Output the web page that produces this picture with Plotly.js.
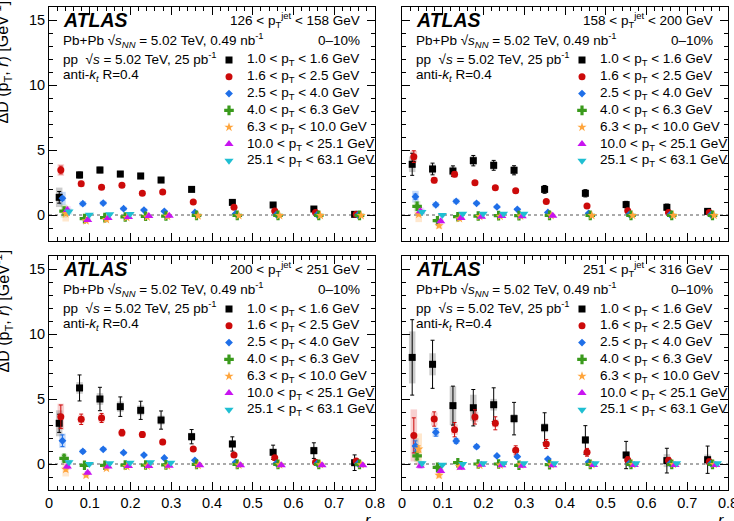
<!DOCTYPE html>
<html>
<head>
<meta charset="utf-8">
<script src="https://cdn.plot.ly/plotly-3.0.1.min.js"></script>
<style>
  html, body { margin: 0; padding: 0; background: #fff; }
  #chart { width: 734px; height: 521px; }
</style>
</head>
<body>
<div id="chart"></div>
<script>
// Centres of the r bins
const rBins = [0.025, 0.075, 0.125, 0.175, 0.225, 0.275, 0.35, 0.45, 0.55, 0.65, 0.75];

// Track pT intervals (one series each)
const trackBins = [
  '1.0 &lt; p<sub>T</sub> &lt; 1.6 GeV',
  '1.6 &lt; p<sub>T</sub> &lt; 2.5 GeV',
  '2.5 &lt; p<sub>T</sub> &lt; 4.0 GeV',
  '4.0 &lt; p<sub>T</sub> &lt; 6.3 GeV',
  '6.3 &lt; p<sub>T</sub> &lt; 10.0 GeV',
  '10.0 &lt; p<sub>T</sub> &lt; 25.1 GeV',
  '25.1 &lt; p<sub>T</sub> &lt; 63.1 GeV'
];

// Jet pT intervals (one panel each)
const jetBins = [
  '126 &lt; p<sub>T</sub><sup>jet</sup> &lt; 158 GeV',
  '158 &lt; p<sub>T</sub><sup>jet</sup> &lt; 200 GeV',
  '200 &lt; p<sub>T</sub><sup>jet</sup> &lt; 251 GeV',
  '251 &lt; p<sub>T</sub><sup>jet</sup> &lt; 316 GeV'
];

// ΔD(pT, r) [GeV^-1], rows follow trackBins
const dD126 = [
  [1.36, 3.08, 3.46, 3.15, 3.00, 2.69, 1.97, 0.97, 0.77, 0.46, 0.05],
  [3.46, 2.41, 2.13, 2.28, 1.67, 1.77, 1.00, 0.59, 0.31, 0.20, 0.05],
  [1.28, 0.87, 0.92, 0.49, 0.38, 0.28, 0.20, 0.10, 0.04, 0.02, 0.00],
  [0.30, -0.28, -0.20, -0.15, -0.10, -0.08, -0.03, -0.03, -0.03, -0.03, -0.03],
  [0.10, -0.45, -0.35, -0.20, -0.15, -0.10, -0.06, -0.05, -0.04, -0.04, -0.04],
  [0.38, -0.38, -0.23, -0.15, -0.08, -0.05, null, null, null, null, null],
  [0.26, 0.02, 0.05, 0.08, null, null, null, null, null, null, null]
];
const stat126 = [
  [0.45, 0.22, 0.20, 0.18, 0.18, 0.17, 0.15, 0.13, 0.12, 0.12, 0.10],
  [0.30, 0.12, 0.10, 0.10, 0.10, 0.10, 0.08, 0.07, 0.06, 0.06, 0.05],
  [0.15, 0.06, 0.06, 0.05, 0.05, 0.05, 0.04, 0.04, 0.03, 0.03, 0.03],
  [0.08, 0.05, 0.05, 0.04, 0.04, 0.04, 0.03, 0.03, 0.03, 0.03, 0.03],
  [0.08, 0.05, 0.05, 0.04, 0.04, 0.04, 0.03, 0.03, 0.03, 0.03, 0.03],
  [0.08, 0.05, 0.05, 0.04, 0.04, 0.04, null, null, null, null, null],
  [0.08, 0.05, 0.05, 0.04, null, null, null, null, null, null, null]
];
const syst126 = [
  [0.75, 0.30, 0.30, 0.28, 0.27, 0.25, 0.22, 0.20, 0.18, 0.16, 0.15],
  [0.45, 0.25, 0.20, 0.20, 0.18, 0.18, 0.15, 0.12, 0.10, 0.10, 0.08],
  [0.50, 0.20, 0.18, 0.15, 0.12, 0.10, 0.08, 0.06, 0.05, 0.05, 0.05],
  [0.50, 0.10, 0.10, 0.08, 0.08, 0.08, 0.06, 0.05, 0.05, 0.05, 0.05],
  [0.60, 0.15, 0.12, 0.10, 0.08, 0.08, 0.06, 0.05, 0.05, 0.05, 0.05],
  [0.30, 0.15, 0.10, 0.08, 0.08, 0.08, null, null, null, null, null],
  [0.25, 0.10, 0.08, 0.08, null, null, null, null, null, null, null]
];

const dD158 = [
  [3.90, 3.54, 3.38, 4.18, 3.82, 3.44, 1.97, 1.67, 0.80, 0.59, 0.28],
  [4.49, 2.67, 3.13, 2.49, 2.10, 1.87, 1.03, 0.69, 0.33, 0.20, 0.20],
  [1.41, 0.79, 1.05, 0.90, 0.62, 0.44, 0.20, 0.13, 0.05, 0.03, 0.02],
  [0.67, -0.44, -0.13, -0.08, -0.05, -0.05, -0.03, -0.03, -0.03, -0.03, -0.03],
  [0.05, -0.82, -0.28, -0.12, -0.10, -0.08, -0.05, -0.04, -0.03, -0.03, -0.03],
  [0.28, -0.49, -0.23, -0.13, -0.08, -0.10, -0.05, null, null, null, null],
  [0.23, 0.00, 0.10, 0.10, 0.10, 0.10, null, null, null, null, null]
];
const stat158 = [
  [0.85, 0.45, 0.40, 0.40, 0.38, 0.35, 0.30, 0.28, 0.25, 0.25, 0.20],
  [0.45, 0.18, 0.18, 0.15, 0.13, 0.12, 0.10, 0.08, 0.07, 0.07, 0.06],
  [0.20, 0.10, 0.08, 0.07, 0.06, 0.06, 0.05, 0.04, 0.04, 0.03, 0.03],
  [0.10, 0.06, 0.05, 0.05, 0.04, 0.04, 0.03, 0.03, 0.03, 0.03, 0.03],
  [0.10, 0.06, 0.05, 0.05, 0.04, 0.04, 0.03, 0.03, 0.03, 0.03, 0.03],
  [0.10, 0.06, 0.05, 0.05, 0.04, 0.04, 0.03, null, null, null, null],
  [0.10, 0.06, 0.05, 0.05, 0.04, 0.04, null, null, null, null, null]
];
const syst158 = [
  [0.60, 0.35, 0.35, 0.35, 0.33, 0.30, 0.27, 0.25, 0.22, 0.20, 0.18],
  [0.45, 0.25, 0.25, 0.20, 0.18, 0.17, 0.14, 0.12, 0.10, 0.10, 0.08],
  [0.45, 0.20, 0.20, 0.15, 0.12, 0.10, 0.08, 0.06, 0.05, 0.05, 0.05],
  [0.40, 0.15, 0.10, 0.08, 0.08, 0.08, 0.06, 0.05, 0.05, 0.05, 0.05],
  [0.60, 0.25, 0.12, 0.10, 0.08, 0.08, 0.06, 0.05, 0.05, 0.05, 0.05],
  [0.30, 0.15, 0.10, 0.08, 0.08, 0.08, 0.06, null, null, null, null],
  [0.25, 0.10, 0.08, 0.08, 0.08, 0.08, null, null, null, null, null]
];

const dD200 = [
  [3.13, 5.85, 5.00, 4.41, 4.13, 3.38, 2.10, 1.54, 0.90, 1.03, 0.10],
  [3.64, 3.44, 3.54, 2.41, 2.26, 1.69, 1.15, 0.69, 0.49, 0.13, 0.23],
  [1.79, 0.97, 1.13, 0.87, 0.69, 0.46, 0.28, 0.13, 0.05, 0.04, 0.04],
  [0.44, -0.10, -0.10, -0.08, -0.08, -0.07, -0.03, -0.03, -0.03, -0.03, -0.03],
  [-0.41, -0.87, -0.33, -0.20, -0.15, -0.15, -0.10, -0.08, -0.06, -0.05, -0.05],
  [-0.20, -0.67, -0.20, -0.15, -0.15, -0.13, -0.10, -0.10, -0.10, -0.10, -0.10],
  [0.13, 0.00, 0.05, 0.10, 0.13, 0.10, null, null, null, null, null]
];
const stat200 = [
  [0.70, 1.00, 0.90, 0.75, 0.70, 0.70, 0.55, 0.55, 0.55, 0.60, 0.60],
  [0.90, 0.40, 0.35, 0.25, 0.22, 0.20, 0.15, 0.12, 0.10, 0.10, 0.10],
  [0.45, 0.12, 0.10, 0.08, 0.07, 0.06, 0.05, 0.04, 0.04, 0.03, 0.03],
  [0.20, 0.07, 0.06, 0.05, 0.05, 0.05, 0.04, 0.04, 0.04, 0.04, 0.04],
  [0.15, 0.07, 0.06, 0.05, 0.05, 0.05, 0.04, 0.04, 0.04, 0.04, 0.04],
  [0.10, 0.07, 0.06, 0.05, 0.05, 0.05, 0.04, 0.04, 0.04, 0.04, 0.04],
  [0.10, 0.07, 0.06, 0.05, 0.05, 0.05, null, null, null, null, null]
];
const syst200 = [
  [1.00, 0.45, 0.45, 0.40, 0.38, 0.35, 0.30, 0.28, 0.25, 0.30, 0.25],
  [1.00, 0.30, 0.30, 0.25, 0.22, 0.20, 0.17, 0.13, 0.12, 0.10, 0.10],
  [0.55, 0.15, 0.15, 0.12, 0.10, 0.08, 0.07, 0.05, 0.05, 0.05, 0.05],
  [0.35, 0.12, 0.10, 0.08, 0.08, 0.08, 0.06, 0.05, 0.05, 0.05, 0.05],
  [0.55, 0.20, 0.12, 0.10, 0.08, 0.08, 0.06, 0.05, 0.05, 0.05, 0.05],
  [0.25, 0.15, 0.10, 0.08, 0.08, 0.08, 0.06, 0.05, 0.05, 0.05, 0.05],
  [0.20, 0.10, 0.08, 0.08, 0.08, 0.08, null, null, null, null, null]
];

const dD251 = [
  [8.20, 7.67, 4.49, 4.33, 4.56, 3.49, 2.79, 1.85, 0.69, 0.26, 0.33],
  [2.20, 3.46, 2.64, 3.62, 3.13, 1.05, 1.54, 0.90, 0.31, 0.26, 0.18],
  [1.38, 2.44, 1.77, 1.33, 0.62, 0.56, 0.38, 0.15, 0.05, 0.05, 0.03],
  [0.62, -0.26, 0.10, 0.00, 0.00, -0.10, -0.05, -0.03, -0.03, -0.03, -0.03],
  [1.15, -0.87, -0.20, -0.10, -0.08, -0.06, -0.05, -0.04, -0.03, -0.03, -0.03],
  [-0.13, -0.54, -0.28, -0.05, -0.10, -0.13, -0.10, -0.08, -0.08, -0.08, -0.08],
  [0.05, -0.05, 0.00, 0.05, 0.05, 0.05, 0.05, 0.05, 0.05, 0.05, 0.05]
];
const stat251 = [
  [2.90, 1.85, 1.50, 1.40, 1.30, 1.25, 1.15, 1.10, 1.05, 0.95, 1.05],
  [1.35, 0.55, 0.55, 0.55, 0.50, 0.35, 0.35, 0.30, 0.25, 0.25, 0.20],
  [0.40, 0.30, 0.20, 0.15, 0.12, 0.10, 0.08, 0.06, 0.05, 0.05, 0.04],
  [0.25, 0.10, 0.08, 0.06, 0.06, 0.06, 0.05, 0.05, 0.05, 0.05, 0.05],
  [0.25, 0.10, 0.08, 0.06, 0.06, 0.06, 0.05, 0.05, 0.05, 0.05, 0.05],
  [0.15, 0.10, 0.08, 0.06, 0.06, 0.06, 0.05, 0.05, 0.05, 0.05, 0.05],
  [0.10, 0.08, 0.07, 0.06, 0.06, 0.06, 0.05, 0.05, 0.05, 0.05, 0.05]
];
const syst251 = [
  [2.00, 0.85, 1.50, 1.00, 0.45, 0.35, 0.35, 0.30, 0.30, 0.50, 0.40],
  [2.00, 0.50, 0.40, 0.40, 0.30, 0.20, 0.20, 0.15, 0.12, 0.12, 0.10],
  [0.60, 0.35, 0.20, 0.15, 0.12, 0.10, 0.08, 0.06, 0.05, 0.05, 0.05],
  [0.45, 0.15, 0.10, 0.08, 0.08, 0.08, 0.06, 0.05, 0.05, 0.05, 0.05],
  [1.20, 0.25, 0.12, 0.10, 0.08, 0.08, 0.06, 0.05, 0.05, 0.05, 0.05],
  [0.25, 0.15, 0.10, 0.08, 0.08, 0.08, 0.06, 0.05, 0.05, 0.05, 0.05],
  [0.20, 0.10, 0.08, 0.08, 0.08, 0.08, 0.06, 0.05, 0.05, 0.05, 0.05]
];

const panelValues = [dD126, dD158, dD200, dD251];
const panelStat = [stat126, stat158, stat200, stat251];
const panelSyst = [syst126, syst158, syst200, syst251];

// Marker styles per track pT series
const colors = ['#000000', '#cc0a0a', '#1f6fe8', '#3a9a1c', '#ffa53c', '#c814f0', '#1fbfd2'];
const boxColors = ['rgba(0,0,0,0.2)', 'rgba(220,20,20,0.2)', 'rgba(31,111,232,0.25)', 'rgba(58,154,28,0.2)',
                   'rgba(255,165,60,0.25)', 'rgba(200,20,240,0.2)', 'rgba(31,191,210,0.2)'];
const symbols = ['square', 'circle', 'diamond', 'cross', 'star', 'triangle-up', 'triangle-down'];
const sizes = [7, 7, 6, 8, 7, 8, 8];
const xShift = [0, 0.004, 0.008, 0.012, 0.016, 0.020, 0.024];

// Panel frames in pixels
const W = 734, H = 521;
const frameW = 326, frameH = 234;
const frames = [{x0: 49, y0: 7}, {x0: 402, y0: 7}, {x0: 49, y0: 256}, {x0: 402, y0: 256}];
const yMin = -2, yMax = 16, xMax = 0.8;

const px = x => x / W;
const py = y => 1 - y / H;
const font = 'Liberation Sans, Arial, Helvetica, sans-serif';

const traces = [];
const annotations = [];
const shapes = [];
const layout = {
  width: W, height: H,
  margin: {l: 0, r: 0, t: 0, b: 0},
  paper_bgcolor: '#fff', plot_bgcolor: '#fff',
  showlegend: false,
  barmode: 'overlay',
  font: {family: font, size: 14, color: '#000'},
  annotations, shapes
};

frames.forEach((f, p) => {
  const k = p === 0 ? '' : String(p + 1);
  const xa = 'x' + k, ya = 'y' + k;
  const vals = panelValues[p], stat = panelStat[p], syst = panelSyst[p];

  layout['xaxis' + k] = {
    domain: [px(f.x0), px(f.x0 + frameW)], anchor: ya,
    range: [0, xMax + 1e-6], tick0: 0, dtick: 0.1,
    showline: true, mirror: 'ticks', linecolor: '#000', linewidth: 1,
    ticks: 'inside', ticklen: 8, tickwidth: 1, tickcolor: '#000',
    minor: {ticks: 'inside', ticklen: 4, dtick: 0.02, tickwidth: 1, tickcolor: '#000', showgrid: false},
    showticklabels: p >= 2, ticklabeloverflow: 'allow',
    tickfont: {family: font, size: 14.5, color: '#000'},
    showgrid: false, zeroline: false, fixedrange: true
  };
  layout['yaxis' + k] = {
    domain: [py(f.y0 + frameH), py(f.y0)], anchor: xa,
    range: [yMin, yMax], tick0: 0, dtick: 5,
    showline: true, mirror: 'ticks', linecolor: '#000', linewidth: 1,
    ticks: 'inside', ticklen: 8, tickwidth: 1, tickcolor: '#000',
    minor: {ticks: 'inside', ticklen: 4, dtick: 1, tickwidth: 1, tickcolor: '#000', showgrid: false},
    showticklabels: p % 2 === 0, tickfont: {family: font, size: 14.5, color: '#000'},
    showgrid: false, zeroline: false, fixedrange: true
  };

  // dotted reference line at zero
  shapes.push({type: 'line', xref: xa, yref: ya, x0: 0, x1: xMax, y0: 0, y1: 0,
               line: {color: '#555', width: 1, dash: 'dot'}, layer: 'below'});

  // systematic uncertainty boxes
  vals.forEach((row, s) => {
    const xs = rBins.map(r => r + xShift[s]);
    traces.push({
      type: 'bar', xaxis: xa, yaxis: ya, x: xs,
      base: row.map((v, i) => v === null ? null : v - syst[s][i]),
      y: row.map((v, i) => v === null ? null : 2 * syst[s][i]),
      width: 0.016, marker: {color: boxColors[s], line: {width: 0}},
      hoverinfo: 'skip', showlegend: false
    });
  });

  // data points with statistical error bars
  vals.forEach((row, s) => {
    traces.push({
      type: 'scatter', mode: 'markers', xaxis: xa, yaxis: ya,
      x: rBins.map(r => r + xShift[s]), y: row,
      error_y: {type: 'data', array: stat[s], visible: true, color: colors[s], thickness: 1, width: 2},
      marker: {symbol: symbols[s], size: sizes[s], color: colors[s], line: {width: 0}},
      cliponaxis: true, showlegend: false, name: trackBins[s]
    });
  });

  // legend keys and labels
  const keyX = 180 / frameW * xMax;
  trackBins.forEach((label, s) => {
    const rowY = 53 + s * 16.8;
    traces.push({
      type: 'scatter', mode: 'markers', xaxis: xa, yaxis: ya,
      x: [keyX], y: [yMax - rowY / frameH * (yMax - yMin)],
      marker: {symbol: symbols[s], size: sizes[s], color: colors[s], line: {width: 0}},
      hoverinfo: 'skip', showlegend: false
    });
    annotations.push({xref: 'paper', yref: 'paper', x: px(f.x0 + 196), y: py(f.y0 + rowY),
      xanchor: 'left', yanchor: 'middle', showarrow: false, text: label,
      font: {family: font, size: 13.5, color: '#000'}});
  });

  const left = px(f.x0 + 12), right = px(f.x0 + 313);
  annotations.push(
    {xref: 'paper', yref: 'paper', x: left, y: py(f.y0 + 13), xanchor: 'left', yanchor: 'middle',
     showarrow: false, text: '<b><i>ATLAS</i></b>', font: {family: font, size: 19.5, color: '#000'}},
    {xref: 'paper', yref: 'paper', x: right, y: py(f.y0 + 13), xanchor: 'right', yanchor: 'middle',
     showarrow: false, text: jetBins[p], font: {family: font, size: 13.5, color: '#000'}},
    {xref: 'paper', yref: 'paper', x: left, y: py(f.y0 + 33), xanchor: 'left', yanchor: 'middle',
     showarrow: false, text: 'Pb+Pb \u221a<i>s</i><sub><i>NN</i></sub> = 5.02 TeV, 0.49 nb<sup>-1</sup>',
     font: {family: font, size: 13.5, color: '#000'}},
    {xref: 'paper', yref: 'paper', x: right, y: py(f.y0 + 33), xanchor: 'right', yanchor: 'middle',
     showarrow: false, text: '0\u201310%', font: {family: font, size: 13.5, color: '#000'}},
    {xref: 'paper', yref: 'paper', x: left, y: py(f.y0 + 51), xanchor: 'left', yanchor: 'middle',
     showarrow: false, text: 'pp\u00a0 \u221a<i>s</i> = 5.02 TeV, 25 pb<sup>-1</sup>',
     font: {family: font, size: 13.5, color: '#000'}},
    {xref: 'paper', yref: 'paper', x: left, y: py(f.y0 + 68), xanchor: 'left', yanchor: 'middle',
     showarrow: false, text: 'anti-<i>k</i><sub><i>t</i></sub> R=0.4',
     font: {family: font, size: 13.5, color: '#000'}}
  );

  // axis titles, aligned to the axis ends
  if (p % 2 === 0) {
    annotations.push({xref: 'paper', yref: 'paper', x: px(-10), y: py(f.y0 - 8),
      xanchor: 'left', yanchor: 'top', textangle: -90, showarrow: false,
      text: '\u0394D (p<sub>T</sub>, <i>r</i>) [GeV<sup>-1</sup>]',
      font: {family: font, size: 16, color: '#000'}});
  }
  if (p >= 2) {
    annotations.push({xref: 'paper', yref: 'paper', x: px(f.x0 + frameW - 2), y: py(510),
      xanchor: 'right', yanchor: 'top', showarrow: false, text: '<i>r</i>',
      font: {family: font, size: 16, color: '#000'}});
  }
});

Plotly.newPlot('chart', traces, layout, {displayModeBar: false, staticPlot: true});
</script>
</body>
</html>
